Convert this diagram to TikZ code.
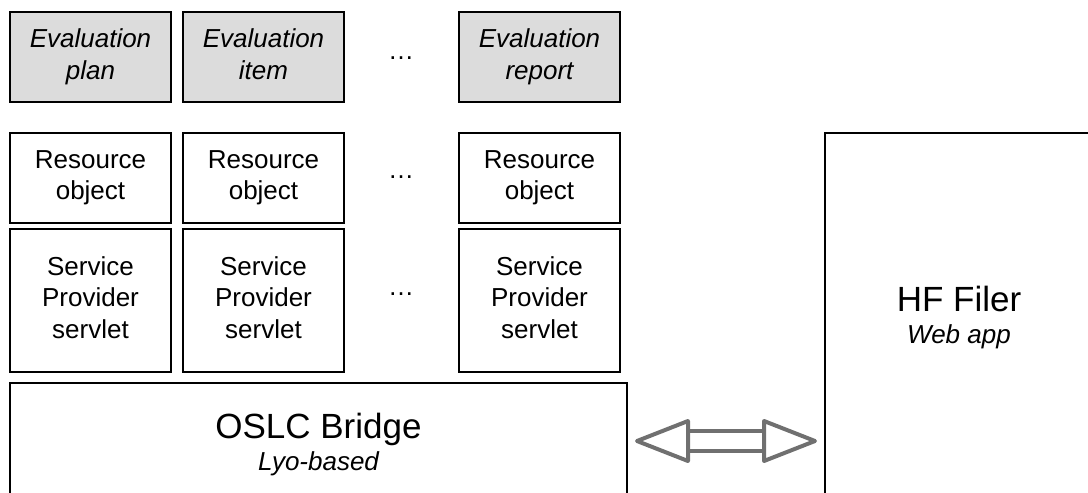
\documentclass[tikz,border=0pt]{standalone}
\usepackage{fontspec}
\setmainfont{Liberation Sans}
\definecolor{evalgray}{RGB}{220,220,220}
\definecolor{linkgray}{RGB}{112,112,112}
\usetikzlibrary{calc}

\begin{document}
\begin{tikzpicture}[
  x=0.5pt, y=-0.5pt,
  box/.style={
    draw, line width=1pt, inner sep=0pt, align=center,
    minimum width=80.5pt, font=\fontsize{13}{15.75}\selectfont,
    execute at begin node={\rule{0pt}{16pt}},
    execute at end node={\rule[-3pt]{0pt}{3pt}},
  },
  evalbox/.style={box, fill=evalgray, minimum height=45pt,
    font=\fontsize{13}{15.75}\selectfont\itshape},
  resbox/.style={box, minimum height=45pt},
  servbox/.style={box, minimum height=71.5pt},
  bigbox/.style={draw, line width=1pt, inner sep=0pt, align=center,
    font=\fontsize{17.5}{16}\selectfont},
  ellip/.style={inner sep=0pt, font=\fontsize{13}{15.75}\selectfont},
  link/.style={draw=linkgray, line width=2pt, line join=round},
]
\useasboundingbox (0,0) rectangle (1088,493);
\clip (0,0) rectangle (1088,493);

% Top row -- evaluation resources
\foreach \n/\x/\t in {plan/90.5/plan, item/263.5/item, report/539.5/report} {
  \node[evalbox] (eval-\n) at (\x,57) {Evaluation\\\t};
}

% Resource objects and service provider servlets
\foreach \n/\x in {plan/90.5, item/263.5, report/539.5} {
  \node[resbox]  (res-\n)  at (\x,178)   {Resource\\object};
  \node[servbox] (serv-\n) at (\x,300.5) {Service\\Provider\\servlet};
}

% Ellipses between the columns
\node[ellip] (dots-eval) at (401,58)  {…};
\node[ellip] (dots-res)  at (401,177) {…};
\node[ellip] (dots-serv) at (401,294) {…};

% Bridge and web app (cut by the page edge)
\node[bigbox, minimum width=308.5pt, minimum height=61.5pt] (oslc) at (318.5,444.5)
  {OSLC Bridge\\{\fontsize{13}{15.75}\selectfont\itshape Lyo-based}};
\node[bigbox, minimum width=134pt, minimum height=185pt] (hf) at (959,318)
  {HF Filer\\{\fontsize{13}{15.75}\selectfont\itshape Web app}};

% Hollow double arrow between bridge and web app
\coordinate (al) at ($(oslc.north east)+(9,59)$);
\coordinate (ar) at ($(hf.north west)+(-9,309)$);
\draw[link] (al) -- ++(51,-20) -- ++(0,40) -- cycle;
\draw[link] (ar) -- ++(-51,-20) -- ++(0,40) -- cycle;
\draw[link] ($(al)+(51,-10)$) -- ($(ar)+(-51,-10)$)
            ($(al)+(51,10)$)  -- ($(ar)+(-51,10)$);

\end{tikzpicture}
\end{document}
